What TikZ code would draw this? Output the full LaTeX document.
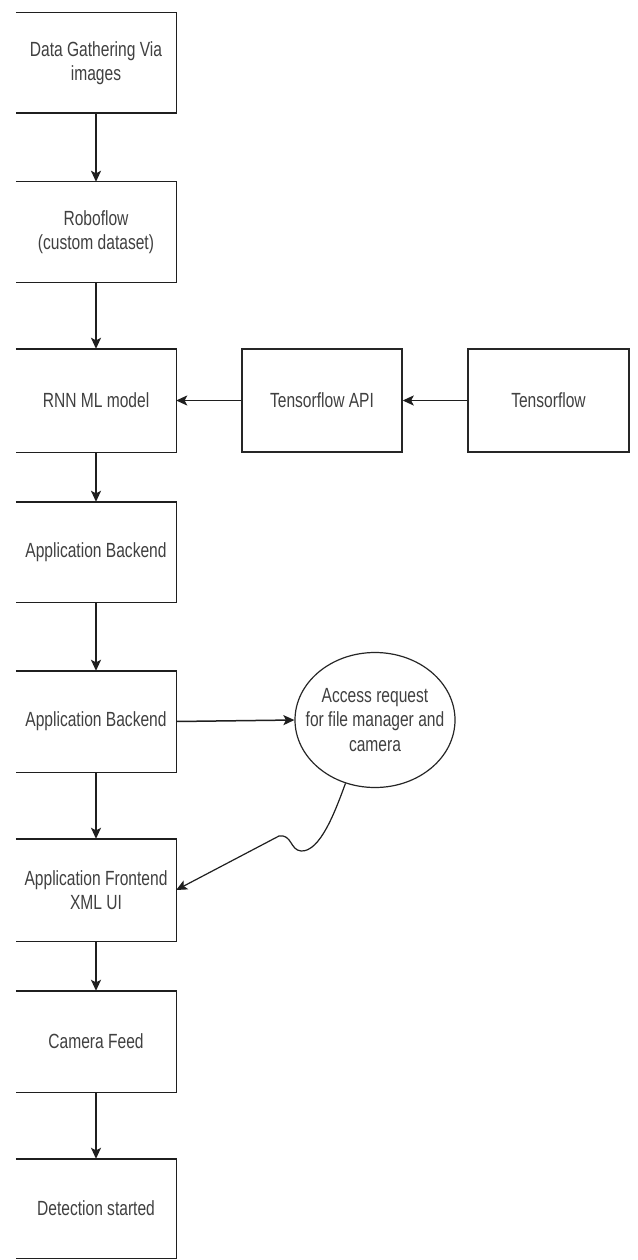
\documentclass[tikz,border=0pt]{standalone}
\usepackage{fontspec}
\newfontfamily\labfont[FakeStretch=0.76]{Liberation Sans}
\usetikzlibrary{shapes.geometric,arrows.meta}
\begin{document}
\begin{tikzpicture}[x=1pt,y=-1pt,
  lbl/.style={font=\labfont\fontsize{20.5}{24.5}\selectfont, text=black!75, align=center},
  openbox/.style={lbl, draw=none, minimum width=160pt, minimum height=100pt, inner sep=0pt},
  fullbox/.style={lbl, draw=black!85, line width=1.4pt, minimum width=160pt, minimum height=103pt, inner sep=0pt},
  ell/.style={lbl, draw=black!85, line width=1.2pt, ellipse, minimum width=160pt, minimum height=135pt, inner xsep=-13pt, inner ysep=0pt},
  edge/.style={draw=black!88, line width=1.5pt},
  arr/.style={edge, -{Stealth[length=11pt,width=10pt,inset=2.5pt]}}
]
\useasboundingbox (0,0) rectangle (637,1260);
\fill[white] (0,0) rectangle (637,1260);

\node[openbox] (b1) at (96,63) {Data Gathering Via\\images};
\node[openbox] (b2) at (96,232) {Roboflow\\(custom dataset)};
\node[openbox, minimum height=103pt] (b3) at (96,400.5) {RNN ML model};
\node[openbox] (b4) at (96,552) {Application Backend};
\node[openbox, minimum height=101pt] (b5) at (96,721.5) {Application Backend};
\node[openbox, minimum height=102pt] (b6) at (96,890) {Application Frontend\\XML UI};
\node[openbox, minimum height=101pt] (b7) at (96,1041.5) {Camera Feed};
\node[openbox, minimum height=99pt] (b8) at (96,1208.5) {Detection started};

\node[fullbox] (api) at (322,400.5) {Tensorflow API};
\node[fullbox, minimum width=161pt] (tf) at (548.5,400.5) {Tensorflow};

\node[ell] (acc) at (375,720) {Access request\\for file manager and\\camera};

\foreach \n in {b1,b2,b3,b4,b5,b6,b7,b8}
  \draw[edge, line width=1.4pt] (\n.north west) -- (\n.north east) -- (\n.south east) -- (\n.south west);

\draw[arr] (b1) -- (b2);
\draw[arr] (b2) -- (b3);
\draw[arr] (b3) -- (b4);
\draw[arr] (b4) -- (b5);
\draw[arr] (b5) -- (b6);
\draw[arr] (b6) -- (b7);
\draw[arr] (b7) -- (b8);
\draw[arr] (tf) -- (api);
\draw[arr] (api) -- (b3);
\draw[arr] (b5.east) -- (acc.west);
\draw[arr, line width=1.2pt] (acc.245) .. controls (335,812) and (320,852) .. (301,851)
  .. controls (290,850) and (292,834) .. (279,836) -- (b6.east);
\end{tikzpicture}
\end{document}
